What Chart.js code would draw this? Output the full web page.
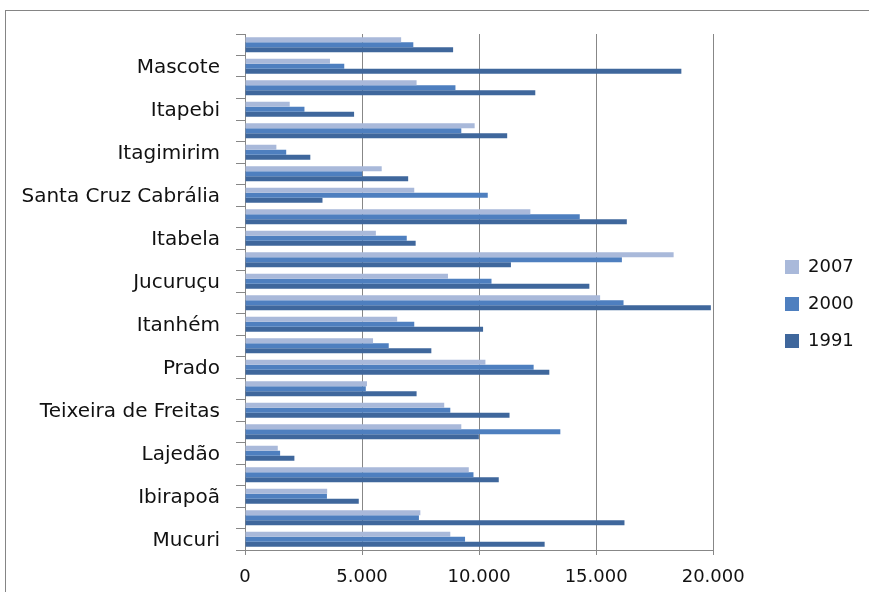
<!DOCTYPE html>
<html>
<head>
<meta charset="utf-8">
<script src="https://cdn.jsdelivr.net/npm/chart.js@4/dist/chart.umd.min.js"></script>
<style>
  html, body { margin: 0; padding: 0; background: #ffffff; overflow: hidden; }
  #frame {
    position: absolute; left: 5px; top: 10px; width: 1000px; height: 800px;
    border-left: 1px solid #858585; border-top: 1px solid #858585;
  }
  #wrap { position: absolute; left: 0; top: 0; width: 869px; height: 592px; }
</style>
</head>
<body>
<div id="frame"></div>
<div id="wrap"><canvas id="chart" width="869" height="592"></canvas></div>
<script>
// Municipalities, listed from the bottom of the chart upward
const municipios = [
  'Mucuri', 'Nova Viçosa', 'Ibirapoã', 'Caravelas', 'Lajedão', 'Alcobaça',
  'Teixeira de Freitas', 'Medeiros Neto', 'Prado', 'Vereda', 'Itanhém', 'Itamaraju',
  'Jucuruçu', 'Guaratinga', 'Itabela', 'Porto Seguro', 'Santa Cruz Cabrália', 'Eunápolis',
  'Itagimirim', 'Belmonte', 'Itapebi', 'Canavieiras', 'Mascote', 'Una'
];

const anos = ['2007', '2000', '1991'];

const valores2007 = [
  8770, 7490, 3510, 9560, 1400, 9240, 8510, 5210, 10270, 5470, 6500, 15170,
  8670, 18310, 5590, 12190, 7230, 5840, 1340, 9810, 1910, 7330, 3630, 6670
];
const valores2000 = [
  9400, 7430, 3500, 9760, 1500, 13470, 8770, 5160, 12330, 6140, 7230, 16170,
  10530, 16100, 6910, 14300, 10370, 5010, 1760, 9240, 2540, 8990, 4240, 7190
];
const valores1991 = [
  12800, 16210, 4860, 10840, 2110, 9990, 11300, 7330, 13000, 7960, 10170, 19900,
  14710, 11360, 7290, 16310, 3310, 6970, 2790, 11200, 4660, 12400, 18640, 8890
];

const xTicks = [0, 5000, 10000, 15000, 20000];

const cores = ['#a9b9da', '#4e7fbf', '#3f679c'];

function milhar(v) {
  return String(v).replace(/\B(?=(\d{3})+(?!\d))/g, '.');
}

const GRID = '#878787';
Chart.defaults.font.family = "'DejaVu Sans', sans-serif";
Chart.defaults.color = '#111111';

// Moves the legend block into the empty band at the right of the plot
const legendPlace = {
  id: 'legendPlace',
  afterLayout(chart) {
    const lg = chart.legend;
    const pad = lg.options.labels.padding;
    const dx = 785 - (lg.left + pad);
    lg.left += dx; lg.right += dx;
    lg.top -= 9; lg.bottom -= 9;
  }
};

new Chart(document.getElementById('chart'), {
  type: 'bar',
  data: {
    labels: municipios,
    datasets: [
      { label: anos[0], data: valores2007, backgroundColor: cores[0] },
      { label: anos[1], data: valores2000, backgroundColor: cores[1] },
      { label: anos[2], data: valores1991, backgroundColor: cores[2] }
    ]
  },
  options: {
    indexAxis: 'y',
    responsive: false,
    animation: false,
    events: [],
    layout: { padding: { top: 34, left: 0, right: 58, bottom: 0 } },
    datasets: { bar: { categoryPercentage: 0.7, barPercentage: 1.0, borderWidth: 0 } },
    scales: {
      y: {
        reverse: true,
        grid: { display: true, drawOnChartArea: false, offset: true, color: GRID, tickLength: 9 },
        border: { display: true, color: GRID, width: 1 },
        ticks: {
          autoSkip: false,
          padding: 16,
          labelOffset: 2,
          font: { size: 20 },
          callback: (v) => (v % 2 === 0 ? municipios[v] : '')
        },
        afterFit: (s) => { s.width = 245; }
      },
      x: {
        min: 0, max: 20000,
        afterBuildTicks: (s) => { s.ticks = xTicks.map(v => ({ value: v })); },
        grid: { color: GRID, tickLength: 5 },
        border: { display: true, color: GRID, width: 1 },
        ticks: { padding: 12, font: { size: 18 }, callback: (v) => milhar(v) },
        afterFit: (s) => { s.height = 42; }
      }
    },
    plugins: {
      legend: {
        position: 'right',
        labels: { boxWidth: 14, boxHeight: 14, padding: 19, font: { size: 18 }, color: '#111111' }
      },
      tooltip: { enabled: false }
    }
  },
  plugins: [legendPlace]
});
</script>
</body>
</html>
